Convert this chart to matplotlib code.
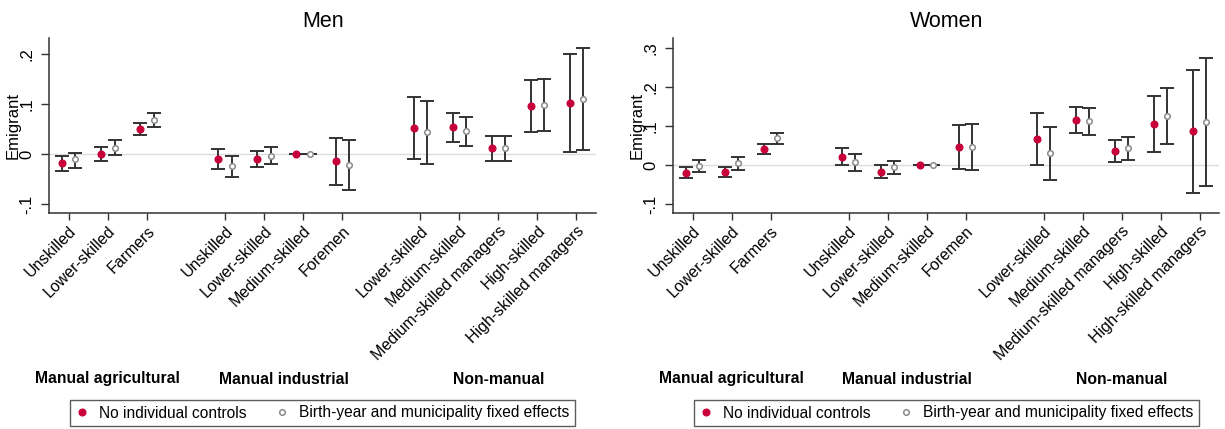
import matplotlib
matplotlib.use("Agg")
import matplotlib.pyplot as plt
import matplotlib.transforms as mtransforms
from matplotlib.lines import Line2D

plt.rcParams['font.family'] = ['Liberation Sans', 'DejaVu Sans']

# ---------------- data ----------------
groups = ["Manual agricultural", "Manual industrial", "Non-manual"]
group_sizes = [3, 4, 5]
categories = ["Unskilled", "Lower-skilled", "Farmers",
              "Unskilled", "Lower-skilled", "Medium-skilled", "Foremen",
              "Lower-skilled", "Medium-skilled", "Medium-skilled managers",
              "High-skilled", "High-skilled managers"]

series_labels = ["No individual controls",
                 "Birth-year and municipality fixed effects"]

# Men
men_b0 = [-0.018, 0.000, 0.051, -0.009, -0.009, 0.0, -0.014, 0.053, 0.055, 0.012, 0.097, 0.103]
men_lo0 = [-0.033, -0.014, 0.038, -0.029, -0.025, 0.0, -0.061, -0.009, 0.025, -0.013, 0.045, 0.005]
men_hi0 = [-0.004, 0.014, 0.063, 0.011, 0.007, 0.0, 0.033, 0.115, 0.083, 0.037, 0.148, 0.201]
men_b1 = [-0.010, 0.013, 0.068, -0.024, -0.003, 0.0, -0.021, 0.044, 0.047, 0.012, 0.099, 0.110]
men_lo1 = [-0.027, -0.002, 0.054, -0.045, -0.020, 0.0, -0.071, -0.019, 0.017, -0.014, 0.047, 0.009]
men_hi1 = [0.003, 0.029, 0.082, -0.003, 0.014, 0.0, 0.029, 0.107, 0.075, 0.037, 0.151, 0.212]

# Women
women_b0 = [-0.020, -0.019, 0.042, 0.021, -0.017, 0.0, 0.047, 0.067, 0.116, 0.037, 0.104, 0.087]
women_lo0 = [-0.034, -0.032, 0.028, 0.001, -0.033, 0.0, -0.011, 0.000, 0.082, 0.008, 0.032, -0.071]
women_hi0 = [-0.005, -0.004, 0.055, 0.044, -0.001, 0.0, 0.103, 0.133, 0.150, 0.065, 0.176, 0.244]
women_b1 = [-0.003, 0.004, 0.068, 0.007, -0.006, 0.0, 0.047, 0.030, 0.113, 0.044, 0.126, 0.111]
women_lo1 = [-0.019, -0.012, 0.053, -0.016, -0.024, 0.0, -0.013, -0.038, 0.077, 0.014, 0.054, -0.053]
women_hi1 = [0.014, 0.021, 0.083, 0.029, 0.011, 0.0, 0.106, 0.097, 0.147, 0.073, 0.198, 0.275]

men_yticks = [-0.1, 0.0, 0.1, 0.2]
men_yticklabels = ["-.1", "0", ".1", ".2"]
women_yticks = [-0.1, 0.0, 0.1, 0.2, 0.3]
women_yticklabels = ["-.1", "0", ".1", ".2", ".3"]

# ---------------- layout helpers ----------------
positions = []
group_centers = []
p = 1
for gs in group_sizes:
    start = p
    for _ in range(gs):
        positions.append(p)
        p += 1
    group_centers.append((start + p - 1) / 2)
    p += 1

RED = "#c8003a"
GRAY = "#8a8a8a"
BAR = "#333333"
OFF = 0.17

W, H = 1225, 429
fig = plt.figure(figsize=(W / 100, H / 100), dpi=100)


def panel(rect, title, b0, lo0, hi0, b1, lo1, hi1, ylim, yticks, yticklabels):
    ax = fig.add_axes(rect)
    ax.axhline(0, color="#dcdcdc", lw=1.0, zorder=0)
    x0 = [x - OFF for x in positions]
    x1 = [x + OFF for x in positions]
    err0 = [[b - l for b, l in zip(b0, lo0)], [h - b for b, h in zip(b0, hi0)]]
    err1 = [[b - l for b, l in zip(b1, lo1)], [h - b for b, h in zip(b1, hi1)]]
    ax.errorbar(x0, b0, yerr=err0, fmt="none", ecolor=BAR, elinewidth=1.4,
                capsize=4.7, capthick=1.4, zorder=2)
    ax.errorbar(x1, b1, yerr=err1, fmt="none", ecolor=BAR, elinewidth=1.4,
                capsize=4.7, capthick=1.4, zorder=2)
    ax.plot(x0, b0, "o", color=RED, ms=4.8, mec=RED, zorder=3)
    ax.plot(x1, b1, "o", mfc="white", mec=GRAY, mew=1.1, ms=4.0, zorder=3)

    ax.set_xlim(0.5, 14.5)
    ax.set_ylim(*ylim)
    ax.set_xticks(positions)
    ax.set_xticklabels(categories, rotation=45, ha="right", va="top",
                       rotation_mode="anchor", fontsize=11.5)
    ax.set_yticks(yticks)
    ax.set_yticklabels(yticklabels, rotation=90, va="center", fontsize=12)
    ax.tick_params(axis="x", length=5, width=1, pad=2, color="#333333")
    ax.tick_params(axis="y", length=6, width=1, pad=5, color="#333333")
    for s in ["top", "right"]:
        ax.spines[s].set_visible(False)
    for s in ["left", "bottom"]:
        ax.spines[s].set_linewidth(1.1)
        ax.spines[s].set_color("#333333")
    ax.set_ylabel("Emigrant", fontsize=12, va="center")
    ax.yaxis.set_label_coords(-0.066, 0.5)
    ax.set_title(title, fontsize=15.5, pad=8)

    trans = mtransforms.blended_transform_factory(ax.transData, fig.transFigure)
    for g, c in zip(groups, group_centers):
        ax.text(c, (H - 379) / H, g, transform=trans, ha="center", va="center",
                fontsize=11.3, fontweight="bold")

    handles = [
        Line2D([], [], ls="none", marker="o", color=RED, ms=4.8),
        Line2D([], [], ls="none", marker="o", mfc="white", mec=GRAY, mew=1.1, ms=4.0),
    ]
    cx = (rect[0] + rect[2] / 2)
    fig.legend(handles, series_labels, loc="center", ncol=2,
               bbox_to_anchor=(cx, (H - 413) / H), frameon=True, fancybox=False,
               edgecolor="#333333", fontsize=11.2, handlelength=0.8,
               handletextpad=0.7, columnspacing=1.9, borderpad=0.35,
               borderaxespad=0)
    return ax


bot = (H - 213.3) / H
top = (H - 38.3) / H
panel([49.3 / W, bot, (596 - 49.3) / W, top - bot], "Men",
      men_b0, men_lo0, men_hi0, men_b1, men_lo1, men_hi1,
      (-0.118, 0.232), men_yticks, men_yticklabels)
panel([673.3 / W, bot, (1219.3 - 673.3) / W, top - bot], "Women",
      women_b0, women_lo0, women_hi0, women_b1, women_lo1, women_hi1,
      (-0.124, 0.325), women_yticks, women_yticklabels)

fig.savefig("out.png", dpi=100, facecolor="white")
